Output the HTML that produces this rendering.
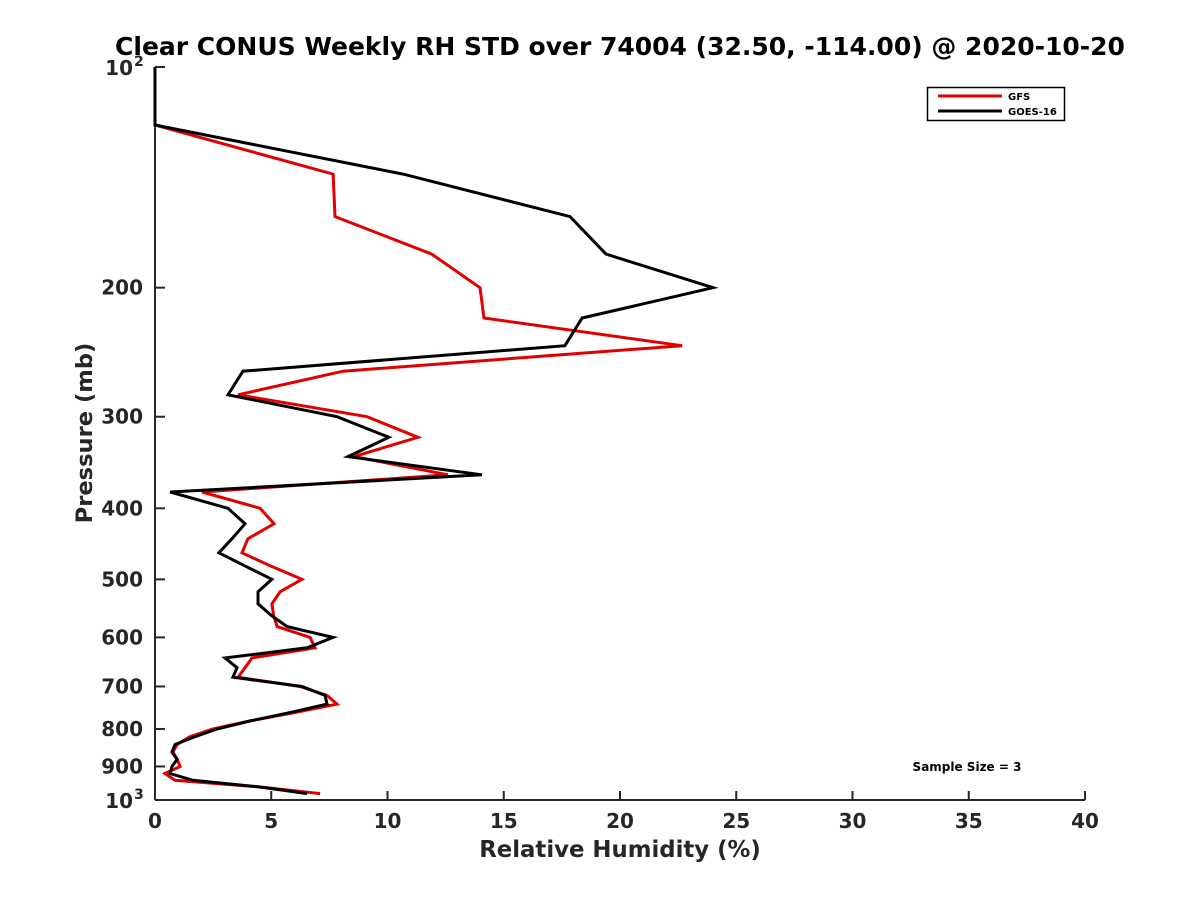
<!DOCTYPE html>
<html><head><meta charset="utf-8"><style>
body{margin:0;background:#fff;}
svg{display:block;font-family:"DejaVu Sans","Liberation Sans",sans-serif;font-weight:bold;}
</style></head><body>
<svg id="chart" width="1200" height="900" viewBox="0 0 1200 900">
<rect width="1200" height="900" fill="#fff"/>
<text x="620" y="55" font-size="25" text-anchor="middle" fill="#000">Clear CONUS Weekly RH STD over 74004 (32.50, -114.00) @ 2020-10-20</text>
<g id="axes"></g>
<g id="series"></g>
<g>
<rect x="927.5" y="87.5" width="137" height="33" fill="#fff" stroke="#000" stroke-width="1.5"/>
<line x1="938" y1="96" x2="1002" y2="96" stroke="#e00000" stroke-width="3"/>
<text x="1008" y="100" font-size="10">GFS</text>
<line x1="938" y1="111" x2="1002" y2="111" stroke="#000" stroke-width="3"/>
<text x="1008" y="115" font-size="10">GOES-16</text>
</g>
<text x="967" y="771" font-size="12" text-anchor="middle">Sample Size = 3</text>
<text x="620" y="857" font-size="22.8" text-anchor="middle" fill="#262626">Relative Humidity (%)</text>
<text x="0" y="0" font-size="22.6" text-anchor="middle" fill="#262626" transform="translate(92,433) rotate(-90)">Pressure (mb)</text>
</svg>
<script>
const pressures=[100,120,140,160,180,200,220,240,260,280,300,320,340,360,380,400,420,440,460,480,500,520,540,560,580,600,620,640,660,680,700,720,740,760,780,800,820,840,860,880,900,920,940,960,980];
const gfsValues=[0,0,7.66,7.74,11.9,13.98,14.15,22.67,8.09,3.57,9.12,11.31,8.56,12.6,2.02,4.52,5.12,4.0,3.74,5.0,6.32,5.38,5.03,5.1,5.25,6.67,6.88,4.17,3.87,3.57,6.24,7.4,7.83,5.98,4.1,2.49,1.5,0.95,0.77,0.95,1.08,0.43,0.86,4.52,7.1];
const goesValues=[0,0,10.67,17.85,19.4,24.0,18.37,17.63,3.78,3.14,7.83,10.06,8.3,14.06,0.65,3.14,3.87,3.31,2.75,3.9,5.03,4.43,4.43,5.0,5.68,7.66,6.54,3.01,3.53,3.35,6.32,7.31,7.4,5.8,4.1,2.67,1.7,0.86,0.73,0.95,0.73,0.65,1.63,4.52,6.54];
const xTicks=[0,5,10,15,20,25,30,35,40];
const yTicks=[200,300,400,500,600,700,800,900];
const NS="http://www.w3.org/2000/svg";
const X0=155,X1=1085,Y0=67,Y1=800;
const xs=v=>X0+(v/40)*(X1-X0);
const ys=p=>Y0+(Math.log10(p)-2)*(Y1-Y0);
function mk(tag,attrs,parent){const e=document.createElementNS(NS,tag);for(const k in attrs)e.setAttribute(k,attrs[k]);parent.appendChild(e);return e;}
const ax=document.getElementById('axes');
const c="#262626";
const xa=mk('line',{x1:X0,y1:Y1,x2:X1,y2:Y1,stroke:c,'stroke-width':2},ax);


const ya=mk('line',{x1:X0,y1:Y0,x2:X0,y2:Y1,stroke:c,'stroke-width':2},ax);


xTicks.forEach(v=>{
  mk('line',{x1:xs(v),y1:Y1,x2:xs(v),y2:Y1-9,stroke:c,'stroke-width':2},ax);
  const t=mk('text',{x:xs(v),y:Y1+28,'font-size':20,'text-anchor':'middle',fill:c},ax);
  t.textContent=v;
  
  
});
yTicks.forEach(p=>{
  mk('line',{x1:X0,y1:ys(p),x2:X0+10,y2:ys(p),stroke:c,'stroke-width':2},ax);
  const t=mk('text',{x:X0-12,y:ys(p)+7,'font-size':20,'text-anchor':'end',fill:c},ax);
  t.textContent=p;
  
  
});
[[100,'2'],[1000,'3']].forEach(([p,e])=>{
  mk('line',{x1:X0,y1:ys(p),x2:X0+10,y2:ys(p),stroke:c,'stroke-width':2},ax);
  const t=mk('text',{x:X0-22,y:ys(p)+8,'font-size':20,'text-anchor':'end',fill:c},ax);
  t.textContent='10';
  
  
  const s=mk('text',{x:X0-21,y:ys(p)-1,'font-size':14,fill:c},ax);
  s.textContent=e;
  
  
});
const sg=document.getElementById('series');
function line(vals,color,name){
  const pts=pressures.map((p,i)=>xs(vals[i]).toFixed(1)+','+ys(p).toFixed(1)).join(' ');
  const pl=mk('polyline',{points:pts,fill:'none',stroke:color,'stroke-width':3,'stroke-linejoin':'miter'},sg);
  
  
}
line(gfsValues,'#e00000','gfs-line');
line(goesValues,'#000','goes16-line');
</script>
</body></html>
